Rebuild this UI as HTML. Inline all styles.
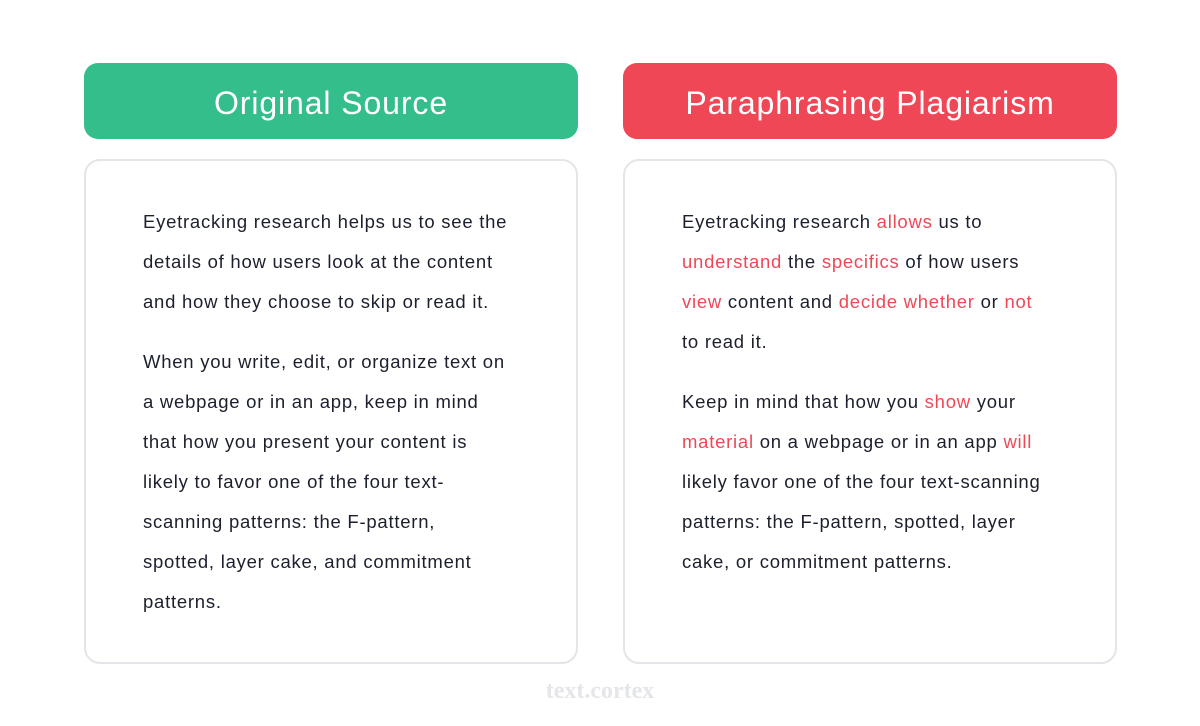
<!DOCTYPE html>
<html><head><style>
body{margin:0;width:1200px;height:726px;background:#fff;position:relative;overflow:hidden;font-family:"Liberation Sans",sans-serif}
.h{position:absolute;top:63px;width:494px;height:76px;border-radius:14px;color:#fff;font-size:32px;line-height:80px;text-align:center;letter-spacing:0.9px}
.b{position:absolute;top:159px;width:490px;height:501px;border:2px solid #e3e5e8;border-radius:16px}
.l{position:absolute;font-size:18.5px;color:#1c1f2e;line-height:20px;white-space:nowrap;letter-spacing:0.75px}
.r{color:#ee4857}
.logo{position:absolute;top:678px;left:0;width:1200px;text-align:center;font-family:"Liberation Serif",serif;font-weight:bold;font-size:24px;color:#e4e6ea}
</style></head><body>
<div class="h" style="left:84px;background:#34be8b">Original Source</div>
<div class="h" style="left:623px;background:#ef4756">Paraphrasing Plagiarism</div>
<div class="b" style="left:84px"></div>
<div class="b" style="left:623px"></div>

<div class="l" style="left:143px;top:212px">Eyetracking research helps us to see the</div>
<div class="l" style="left:143px;top:252px">details of how users look at the content</div>
<div class="l" style="left:143px;top:292px">and how they choose to skip or read it.</div>
<div class="l" style="left:143px;top:352px">When you write, edit, or organize text on</div>
<div class="l" style="left:143px;top:392px">a webpage or in an app, keep in mind</div>
<div class="l" style="left:143px;top:432px">that how you present your content is</div>
<div class="l" style="left:143px;top:472px">likely to favor one of the four text-</div>
<div class="l" style="left:143px;top:512px">scanning patterns: the F-pattern,</div>
<div class="l" style="left:143px;top:552px">spotted, layer cake, and commitment</div>
<div class="l" style="left:143px;top:592px">patterns.</div>

<div class="l" style="left:682px;top:212px">Eyetracking research <span class="r">allows</span> us to</div>
<div class="l" style="left:682px;top:252px"><span class="r">understand</span> the <span class="r">specifics</span> of how users</div>
<div class="l" style="left:682px;top:292px"><span class="r">view</span> content and <span class="r">decide whether</span> or <span class="r">not</span></div>
<div class="l" style="left:682px;top:332px">to read it.</div>
<div class="l" style="left:682px;top:392px">Keep in mind that how you <span class="r">show</span> your</div>
<div class="l" style="left:682px;top:432px"><span class="r">material</span> on a webpage or in an app <span class="r">will</span></div>
<div class="l" style="left:682px;top:472px">likely favor one of the four text-scanning</div>
<div class="l" style="left:682px;top:512px">patterns: the F-pattern, spotted, layer</div>
<div class="l" style="left:682px;top:552px">cake, or commitment patterns.</div>

<div class="logo">text.cortex</div>
</body></html>
